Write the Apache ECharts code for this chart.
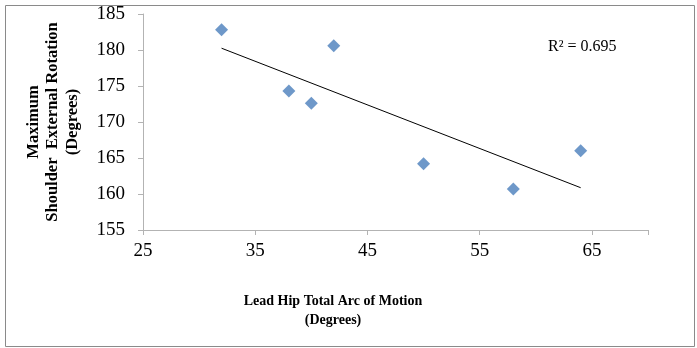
<!DOCTYPE html>
<html>
<head>
<meta charset="utf-8">
<script src="https://cdn.jsdelivr.net/npm/echarts@6/dist/echarts.min.js"></script>
<style>
html,body{margin:0;padding:0;background:#fff;}
#chart{width:697px;height:348px;}
</style>
</head>
<body>
<div id="chart"></div>
<script>
// Data
var hipArc = [32, 38, 40, 42, 50, 58, 64];
var shoulderER = [182.8, 174.3, 172.6, 180.6, 164.2, 160.7, 166.0];
var xTicks = [25, 35, 45, 55, 65];
var yTicks = [155, 160, 165, 170, 175, 180, 185];
var r2Label = 'R\u00B2 = 0.695';
var xTitle = 'Lead Hip Total Arc of Motion\n(Degrees)';
var yTitle = 'Maximum\nShoulder  External Rotation\n(Degrees)';

// Linear least-squares trend line from the data
var n = hipArc.length, mx = 0, my = 0;
for (var i = 0; i < n; i++) { mx += hipArc[i]; my += shoulderER[i]; }
mx /= n; my /= n;
var sxx = 0, sxy = 0;
for (var i = 0; i < n; i++) { sxx += (hipArc[i]-mx)*(hipArc[i]-mx); sxy += (hipArc[i]-mx)*(shoulderER[i]-my); }
var slope = sxy / sxx, intercept = my - slope * mx;
var xMinD = Math.min.apply(null, hipArc), xMaxD = Math.max.apply(null, hipArc);
var trend = [[xMinD, intercept + slope*xMinD], [xMaxD, intercept + slope*xMaxD]];

var points = hipArc.map(function (x, i) { return [x, shoulderER[i]]; });

var serif = '"Liberation Serif", "DejaVu Serif", serif';
var chart = echarts.init(document.getElementById('chart'), null, {renderer: 'canvas'});
chart.setOption({
  animation: false,
  backgroundColor: '#fff',
  grid: {left: 143, right: 49, top: 14, bottom: 118, containLabel: false},
  xAxis: {
    type: 'value', min: 25, max: 70, interval: 10,
    axisLine: {show: true, lineStyle: {color: '#b3b3b3', width: 1}},
    axisTick: {show: true, length: 5, lineStyle: {color: '#b3b3b3'}},
    splitLine: {show: false},
    axisLabel: {
      fontFamily: serif, fontSize: 19, color: '#000', margin: 12,
      formatter: function (v) { return xTicks.indexOf(v) >= 0 ? String(v) : ''; }
    }
  },
  yAxis: {
    type: 'value', min: 155, max: 185, interval: 5,
    axisLine: {show: true, lineStyle: {color: '#b3b3b3', width: 1}},
    axisTick: {show: true, length: 5, lineStyle: {color: '#b3b3b3'}},
    splitLine: {show: false},
    axisLabel: {
      fontFamily: serif, fontSize: 19, color: '#000', margin: 18,
      formatter: function (v) { return yTicks.indexOf(v) >= 0 ? String(v) : ''; }
    },
    name: yTitle, nameLocation: 'middle', nameRotate: 90, nameGap: 61,
    nameTextStyle: {fontFamily: serif, fontWeight: 'bold', fontSize: 16.5, color: '#000', lineHeight: 19.5, align: 'center'}
  },
  series: [
    {
      type: 'scatter', data: points, symbol: 'diamond', symbolSize: 13,
      itemStyle: {color: '#4a7ebb'}, z: 3
    },
    {
      type: 'line', data: trend, symbol: 'none', silent: true,
      lineStyle: {color: '#000', width: 1}, z: 2
    }
  ],
  graphic: [
    {
      type: 'rect', left: 3, top: 3, z: -1,
      shape: {width: 689, height: 341},
      style: {fill: 'none', stroke: '#8a8a8a', lineWidth: 1}
    },
    {
      type: 'text', left: 548, top: 39,
      style: {text: r2Label, font: '16px ' + serif, fill: '#000'}
    },
    {
      type: 'text', x: 333, y: 292,
      style: {text: xTitle, font: 'bold 14px ' + serif, fill: '#000', textAlign: 'center', lineHeight: 19}
    }
  ]
});
</script>
</body>
</html>
